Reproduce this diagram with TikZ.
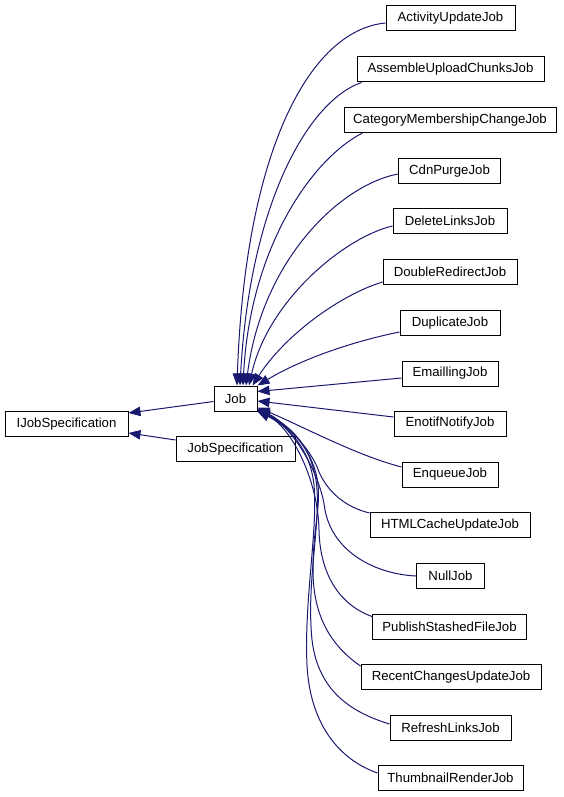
\documentclass[tikz,border=0pt]{standalone}
\usepackage{fontspec}
\setmainfont{Liberation Sans}
\usetikzlibrary{arrows.meta}
\definecolor{edgeblue}{HTML}{191970}
\begin{document}
\begin{tikzpicture}[x=1pt,y=-1pt,
  box/.style={draw=black,fill=white,line width=1pt,minimum height=25pt,inner sep=0pt,font=\fontsize{13.2}{15}\selectfont},
  edge/.style={draw=edgeblue,line width=1pt,-{Triangle[length=12pt,width=9.5pt]}}]
\useasboundingbox (0,0) rectangle (563,797);
% nodes
\node[box,minimum width=123pt] (ijob) at (66.5,424) {IJobSpecification};
\node[box,minimum width=43pt] (job) at (235.5,398.5) {Job};
\node[box,minimum width=119pt] (jsp) at (235.5,449) {JobSpecification};
\node[box,minimum width=129pt] (act) at (450.5,18.5) {ActivityUpdateJob};
\node[box,minimum width=187pt] (asm) at (450.5,69.5) {AssembleUploadChunksJob};
\node[box,minimum width=212pt] (cat) at (450,120) {CategoryMembershipChangeJob};
\node[box,minimum width=102pt] (cdn) at (449.5,171) {CdnPurgeJob};
\node[box,minimum width=114pt] (del) at (450,221) {DeleteLinksJob};
\node[box,minimum width=134pt] (dbl) at (450,272) {DoubleRedirectJob};
\node[box,minimum width=100pt] (dup) at (450,323) {DuplicateJob};
\node[box,minimum width=96pt] (eml) at (450,373.5) {EmaillingJob};
\node[box,minimum width=112pt] (eno) at (450,423.5) {EnotifNotifyJob};
\node[box,minimum width=96pt] (enq) at (450,474.5) {EnqueueJob};
\node[box,minimum width=160pt] (htm) at (450,525) {HTMLCacheUpdateJob};
\node[box,minimum width=68pt] (nul) at (450.5,576) {NullJob};
\node[box,minimum width=154pt] (pub) at (449.5,626.5) {PublishStashedFileJob};
\node[box,minimum width=180pt] (rcu) at (451,677) {RecentChangesUpdateJob};
\node[box,minimum width=121pt] (ref) at (450.5,727.5) {RefreshLinksJob};
\node[box,minimum width=145pt] (thm) at (450.5,777.5) {ThumbnailRenderJob};
% edges to IJobSpecification
\draw[edge] ([yshift=-3pt]job.west) -- ([yshift=11pt]ijob.east);
\draw[edge] ([yshift=9pt]jsp.west) -- ([yshift=-9pt]ijob.east);
% upper edges
\draw[edge] ([yshift=-4.5pt]act.west) .. controls (310,30) and (245,150) .. ([xshift=1.5pt]job.north);
\draw[edge] ([xshift=5pt]asm.south west) .. controls (310,100) and (250,200) .. ([xshift=4.5pt]job.north);
\draw[edge] ([xshift=19pt]cat.south west) .. controls (310,160) and (250,250) .. ([xshift=7.5pt]job.north);
\draw[edge] ([yshift=-3pt]cdn.west) .. controls (340,185) and (262,260) .. ([xshift=10.5pt]job.north);
\draw[edge] ([yshift=-5pt]del.west) .. controls (345,237) and (268,300) .. ([xshift=13.5pt]job.north);
\draw[edge] ([yshift=-10pt]dbl.west) .. controls (340,295) and (285,335) .. ([xshift=17pt]job.north);
\draw[edge] ([yshift=-9pt]dup.west) .. controls (350,342) and (300,360) .. (job.north east);
\draw[edge] ([yshift=-4.5pt]eml.west) -- ([yshift=-6pt]job.north east);
\draw[edge] ([yshift=6.5pt]eno.west) -- ([yshift=-2.5pt]job.east);
\draw[edge] ([yshift=7.5pt]enq.west) .. controls (355,455) and (300,425) .. ([yshift=4pt]job.south east);
% lower edges
\draw[edge] ([yshift=-1pt]htm.north west) .. controls (345,507) and (328,492) .. (319,472) .. controls (312,450) and (285,422) .. ([yshift=3pt]job.south east);
\draw[edge] (nul.west) .. controls (375,574) and (333,552) .. (325,510) .. controls (320,470) and (290,425) .. ([yshift=2pt]job.south east);
\draw[edge] ([yshift=10pt]pub.west) .. controls (340,605) and (320,575) .. (319,530) .. controls (318,480) and (292,428) .. ([yshift=1.5pt]job.south east);
\draw[edge] ([yshift=11pt]rcu.west) .. controls (330,645) and (313,615) .. (313,570) .. controls (313,525) and (322,505) .. (317,478) .. controls (311,448) and (290,426) .. ([yshift=1pt]job.south east);
\draw[edge] ([yshift=3.5pt]ref.west) .. controls (350,712) and (318,690) .. (312,640) .. controls (306,580) and (322,520) .. (316,480) .. controls (310,445) and (290,425) .. ([yshift=0.5pt]job.south east);
\draw[edge] ([yshift=4.5pt]thm.west) .. controls (340,760) and (310,725) .. (307,665) .. controls (304,600) and (318,530) .. (314,485) .. controls (310,448) and (288,426) .. (job.south east);
\end{tikzpicture}
\end{document}
